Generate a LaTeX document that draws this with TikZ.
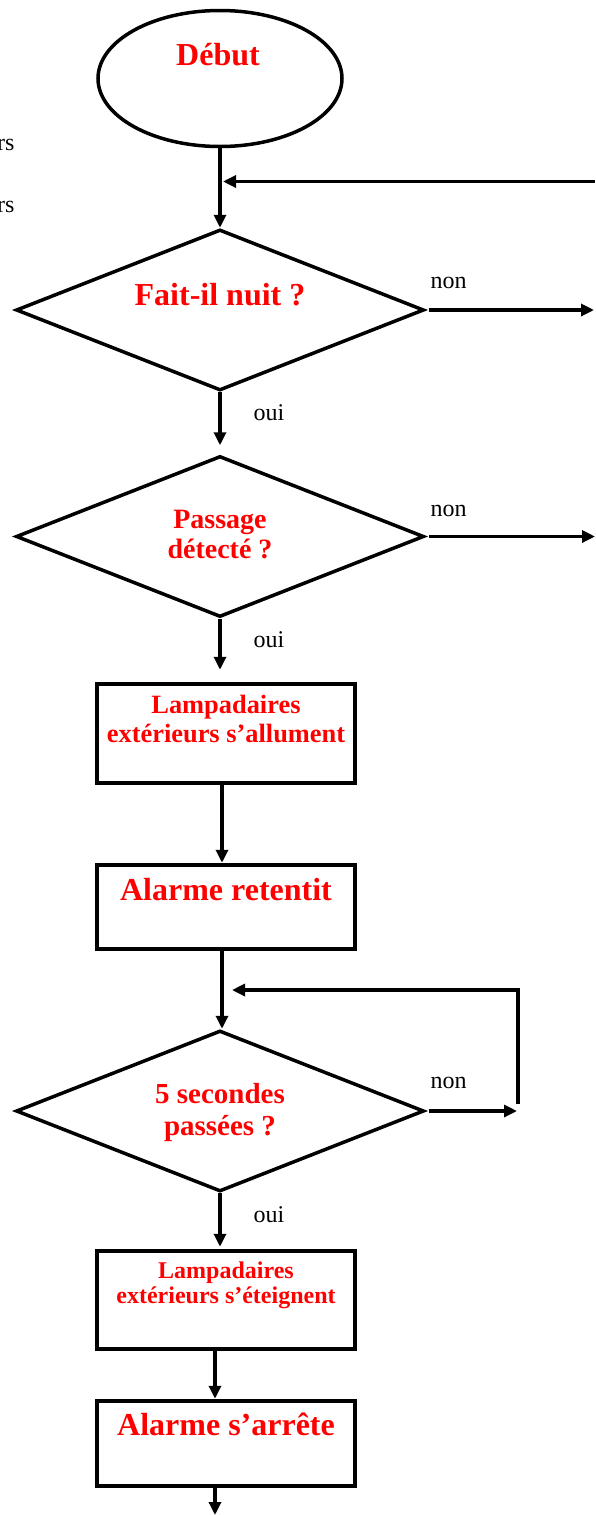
\documentclass[tikz,border=0pt]{standalone}
\usepackage{fontspec}
\setmainfont{Liberation Serif}
\usetikzlibrary{shapes.geometric,arrows.meta}

\begin{document}
\begin{tikzpicture}[x=1pt, y=-1pt,
    fleche/.style={line width=3.2pt, -{Triangle[length=13pt,width=12pt]}},
    test/.style={draw, diamond, line width=3.5pt, minimum width=408pt, minimum height=161pt, inner sep=0pt, aspect=2.5},
    boite/.style={draw, rectangle, line width=4.5pt, minimum width=258pt, inner sep=0pt},
    titre/.style={text=red, font=\bfseries\fontsize{32}{36}\selectfont, anchor=base, align=center},
    reponse/.style={font=\fontsize{24}{28}\selectfont, anchor=base west}]

\useasboundingbox (0,0) rectangle (595,1515);

% Cut-off text on the left
\node[reponse, anchor=base east] (rs1) at (18,150) {rs};
\node[reponse, anchor=base east] (rs2) at (18,212) {rs};

% Start
\node[draw, ellipse, line width=3.5pt, minimum width=244pt, minimum height=136pt, inner sep=0pt] (debut) at (220,78.5) {};
\node[titre] (debut-t) at (218,65) {Début};

% Tests
\node[test] (nuit) at (220,310) {};
\node[titre] (nuit-t) at (220,305) {Fait-il nuit ?};

\node[test] (passage) at (220,536.5) {};
\node[titre, font=\bfseries\fontsize{28}{30}\selectfont] (passage-t) at (220,558) {Passage\\détecté ?};

\node[test] (secondes) at (220,1111) {};
\node[titre, font=\bfseries\fontsize{29}{32}\selectfont] (secondes-t) at (220,1135) {5 secondes\\passées ?};

% Actions
\node[boite, minimum height=99pt] (allume) at (226,733.5) {};
\node[titre, font=\bfseries\fontsize{26.4}{29}\selectfont] (allume-t) at (226,742) {Lampadaires\\extérieurs s’allument};

\node[boite, minimum height=84pt] (retentit) at (226,907) {};
\node[titre] (retentit-t) at (226,900) {Alarme retentit};

\node[boite, minimum height=98pt] (eteint) at (226,1300) {};
\node[titre, font=\bfseries\fontsize{24}{25}\selectfont] (eteint-t) at (226,1303) {Lampadaires\\extérieurs s’éteignent};

\node[boite, minimum height=85pt] (arret) at (226,1443.5) {};
\node[titre] (arret-t) at (226,1435) {Alarme s’arrête};

% Free ends
\coordinate (retour) at (595,181.5);
\coordinate (sortie1) at (594,310);
\coordinate (sortie2) at (595,536.5);
\coordinate (boucle) at (517,1111);
\coordinate (b1) at (518,1104);
\coordinate (b2) at (518,990);
\coordinate (fin) at (215,1515);

% Connectors
\draw[fleche] (debut.south) -- (nuit.north);
\draw[fleche, shorten >=3pt] (retour) -- (retour -| nuit.north);

\draw[fleche] ([xshift=3pt]nuit.east) -- (sortie1);
\node[reponse] (non1) at (427,288) {non};
\draw[fleche, shorten >=9pt] (nuit.south) -- (passage.north);
\node[reponse] (oui1) at (250,420) {oui};

\draw[fleche] ([xshift=3pt]passage.east) -- (sortie2);
\node[reponse] (non2) at (427,516) {non};
\draw[fleche, shorten >=12pt] (passage.south) -- (passage.south |- allume.north);
\node[reponse] (oui2) at (250,647) {oui};

\draw[fleche] ([xshift=-4pt]allume.south) -- ([xshift=-4pt]retentit.north);
\draw[fleche] ([xshift=-4pt]retentit.south) -- ([xshift=-4pt]retentit.south |- secondes.north);

\draw[fleche] ([xshift=3pt]secondes.east) -- (boucle);
\node[reponse] (non3) at (427,1088) {non};
\draw[fleche, shorten >=12pt] (b1) -- (b2) -- (b2 -| secondes.north);
\draw[fleche, shorten >=2pt] (secondes.south) -- (secondes.south |- eteint.north);
\node[reponse] (oui3) at (250,1222) {oui};

\draw[fleche] ([xshift=-11pt]eteint.south) -- ([xshift=-11pt]arret.north);
\draw[fleche] ([xshift=-11pt]arret.south) -- (fin);

\end{tikzpicture}
\end{document}
